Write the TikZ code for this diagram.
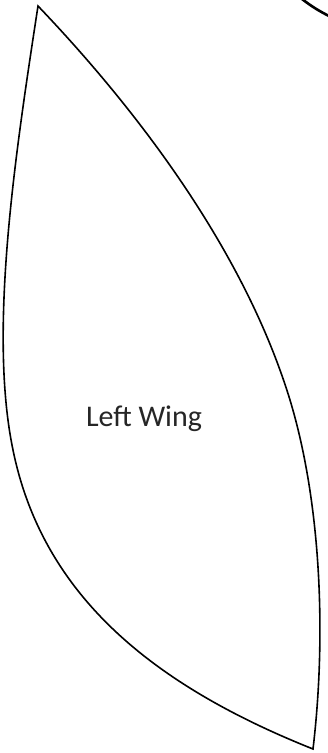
\documentclass[tikz,border=0pt]{standalone}
\usepackage{fontspec}
\setmainfont{Carlito}
\begin{document}
\begin{tikzpicture}[x=1pt,y=1pt,
  wing/.style={draw=black,line width=1.6pt,fill=white,line join=miter},
  lbl/.style={font=\fontsize{30}{36}\selectfont,text=black!85,anchor=base,inner sep=0pt}]
\useasboundingbox (0,0) rectangle (328,-753);
\coordinate (tip) at (38,-6);
\coordinate (mid) at (290,-400);
\coordinate (bot) at (313,-749);
\coordinate (lft) at (13,-450);
\draw[wing] (tip) .. controls (144,-117) and (246,-256) .. (mid)
  .. controls (322,-506) and (326,-640) .. (bot)
  .. controls (155,-686) and (43,-597) .. (lft)
  .. controls (-12,-330) and (16,-150) .. (tip) -- cycle;
\node[lbl] (wingLabel) at (144,-426) {Left Wing};
\coordinate (arcA) at (302,1);
\coordinate (arcB) at (329,-16);
\draw[line width=2.6pt] (arcA) .. controls (311,-6) and (319,-11) .. (arcB);
\end{tikzpicture}
\end{document}
